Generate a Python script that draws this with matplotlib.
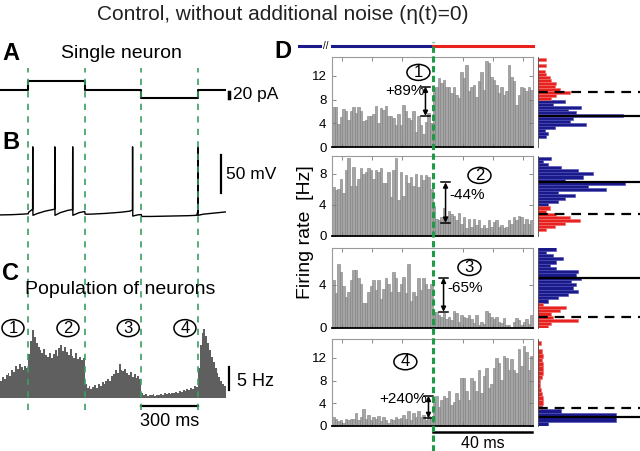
import numpy as np
import matplotlib
matplotlib.use('Agg')
import matplotlib.pyplot as plt
from matplotlib.lines import Line2D
from matplotlib.patches import Ellipse
import matplotlib.transforms as mtransforms

plt.rcParams['font.family'] = ['Liberation Sans', 'DejaVu Sans']
plt.rcParams['lines.scale_dashes'] = False

# ---------------- data ----------------
# A: injected current (pA), steps-post
step_t = [0, 150, 450, 750, 1050, 1200]
step_i = [0, 36, 0, -32, 0, 0]
event_t = [150, 450, 750, 1050]

# B: membrane potential knots (ms, mV)
v_t = [0, 60, 120, 150, 152, 165, 173, 174, 175,
       200, 240, 280, 290, 291, 292, 320, 360, 385,
       386, 387, 420, 450, 452, 480, 560, 640, 690,
       703, 704, 705, 730, 750, 752, 800, 900, 1000,
       1045, 1050, 1051, 1052, 1080, 1120, 1200]
v_mv = [-67.5, -67.2, -66.5, -66, -64, -61.5, -60, 22, -68,
        -65.5, -62.5, -60.5, -60, 22, -68, -64.5, -61.5, -60.5,
        22, -68, -64.5, -63, -66.5, -66.5, -65.5, -64, -62.5,
        -61, 22, -69, -67.5, -67, -69.5, -69.5, -69, -68.5,
        -68, -63, 22, -68, -66.5, -65.5, -63.5]

# C: population rate, 10 ms bins (Hz)
pop_bin = 10
pop_rate = [3.8, 4.5, 4.2, 5.0, 5.5, 4.8, 6.2, 5.6, 7.0, 6.4, 7.4, 6.8, 6.2, 7.0, 6.6,
            9.5, 12.5, 14.8, 13.2, 12.0, 11.2, 10.5, 9.8, 10.6, 9.4, 9.0, 9.8, 8.8, 9.6, 10.4,
            9.2, 10.8, 11.5, 10.2, 11.0, 10.0, 9.4, 10.6, 9.2, 8.6, 9.8, 8.4, 9.0, 8.2, 8.8,
            3.0, 2.2, 2.6, 2.0, 2.4, 2.8, 2.2, 3.0, 2.6, 3.4, 3.0, 3.8, 4.2, 3.6, 4.8,
            5.2, 6.0, 5.4, 7.4, 6.2, 5.8, 6.4, 5.4, 5.0, 5.6, 4.6, 5.2, 4.4, 4.8, 4.2,
            1.0, 0.6, 0.8, 0.5, 0.7, 0.6, 0.9, 0.5, 0.7, 0.6, 0.8, 0.7, 1.0, 0.8, 1.1,
            0.9, 1.2, 1.0, 1.4, 1.1, 1.5, 1.3, 1.8, 1.5, 2.0, 1.7, 2.2, 2.0, 2.6, 2.3,
            6.5, 11.5, 14.2, 15.0, 13.5, 12.0, 10.4, 9.0, 7.8, 6.5, 5.4, 4.6, 3.8, 3.0, 2.6]
pop_labels = ['1', '2', '3', '4']
pop_label_t = [69, 361, 681, 982]

# D: PSTH around event (1 ms bins, Hz)
p1_pre = [6.7, 6.7, 3.9, 5.0, 6.4, 6.0, 4.6, 6.0, 6.7, 5.7, 6.7, 6.0, 4.4, 4.6, 5.2, 5.2, 5.5, 7.0, 4.1, 6.6,
          6.3, 7.0, 5.2, 5.2, 4.9, 3.8, 5.5, 3.8, 7.1, 6.0, 4.9, 4.6, 6.0, 2.5, 5.2, 3.8, 2.2, 4.3, 5.7, 4.0]
p1_post = [9.9, 10.2, 11.6, 10.8, 11.4, 10.2, 10.2, 9.1, 10.2, 8.8, 8.2, 12.6, 11.6, 13.9, 9.4, 10.2, 10.5, 8.5, 11.2, 12.6,
           9.7, 14.5, 14.2, 11.8, 11.4, 10.5, 9.1, 10.2, 8.8, 9.4, 13.9, 11.8, 11.2, 7.1, 8.8, 10.2, 9.9, 9.4, 10.2, 9.6]
p2_pre = [6.3, 5.9, 6.1, 7.4, 5.5, 8.5, 10.0, 6.5, 8.9, 6.5, 7.4, 8.7, 8.0, 8.2, 8.7, 8.5, 7.4, 8.5, 8.2, 8.7,
          6.8, 6.8, 8.2, 5.0, 8.5, 10.0, 4.6, 8.2, 5.2, 7.8, 6.8, 7.6, 6.5, 8.0, 6.3, 7.8, 7.2, 7.8, 7.6, 6.1]
p2_post = [3.8, 2.2, 2.0, 2.4, 3.6, 2.6, 3.2, 2.8, 2.6, 2.0, 3.0, 1.6, 2.4, 1.0, 2.2, 1.2, 2.2, 1.4, 2.0, 1.0,
           1.4, 1.0, 2.1, 1.2, 1.8, 2.0, 1.2, 1.4, 1.0, 1.2, 2.0, 1.6, 2.4, 2.0, 2.6, 2.4, 1.6, 2.2, 1.5, 2.0]
p3_pre = [4.4, 3.2, 5.9, 5.2, 3.9, 2.9, 3.3, 4.4, 5.4, 5.4, 4.6, 4.1, 2.3, 2.3, 3.3, 3.9, 4.4, 3.5, 4.4, 2.7,
          3.6, 4.6, 4.1, 3.3, 5.2, 4.6, 3.3, 4.1, 4.7, 3.2, 5.9, 2.5, 3.3, 3.0, 4.6, 3.5, 4.6, 4.1, 3.6, 4.1]
p3_post = [1.5, 1.5, 1.2, 1.0, 1.4, 0.8, 1.0, 0.7, 1.6, 1.4, 0.6, 1.2, 1.0, 0.9, 1.2, 0.8, 0.5, 1.2, 0.3, 0.6,
           0.4, 1.6, 1.4, 1.0, 0.8, 1.0, 0.6, 0.5, 0.9, 0.3, 0.3, 0.0, 0.6, 0.9, 0.7, 0.3, 0.6, 0.8, 0.4, 1.2]
p4_pre = [1.6, 1.2, 0.8, 1.0, 0.6, 1.2, 1.0, 1.3, 1.2, 2.2, 1.0, 1.5, 3.0, 1.2, 2.0, 1.0, 1.5, 1.2, 1.8, 0.8,
          1.5, 1.0, 0.6, 1.2, 1.0, 1.6, 1.2, 1.4, 2.0, 1.2, 2.6, 1.0, 2.2, 1.5, 2.6, 1.6, 2.0, 1.0, 1.8, 1.2]
p4_post = [4.3, 5.2, 3.4, 4.6, 5.2, 4.9, 6.1, 3.7, 4.3, 5.8, 4.6, 8.5, 8.5, 6.1, 4.6, 8.5, 7.9, 6.1, 9.9, 5.8,
           8.8, 10.2, 6.7, 7.3, 10.2, 12.0, 11.1, 8.1, 12.3, 12.0, 9.9, 11.7, 9.9, 9.4, 13.5, 10.5, 14.1, 13.0, 9.9, 12.3]

# D: rate distributions (Hz bin centre, count)
h1_bw = 0.5
h1_blue_rate = [7.75, 7.25, 6.75, 6.25, 5.75, 5.25, 4.75, 4.25, 3.75, 3.25, 2.75, 2.25, 1.75]
h1_blue_n = [27, 15, 43, 30, 38, 85, 35, 32, 48, 17, 7, 10, 8]
h1_red_rate = [14.75, 13.75, 12.75, 12.25, 11.75, 11.25, 10.75, 10.25, 9.75, 9.25, 8.75, 8.25]
h1_red_n = [8, 8, 7, 8, 12, 13, 18, 17, 22, 32, 18, 13]
h2_bw = 0.4
h2_blue_rate = [10.0, 9.6, 9.2, 8.8, 8.4, 8.0, 7.6, 7.2, 6.8, 6.4, 6.0, 5.6, 5.2, 4.8, 4.4, 4.0]
h2_blue_n = [13, 5, 10, 23, 40, 55, 45, 27, 87, 50, 68, 20, 37, 27, 20, 10]
h2_red_rate = [3.6, 3.2, 2.8, 2.4, 2.0, 1.6, 1.2, 0.8]
h2_red_n = [12, 8, 18, 32, 42, 27, 17, 8]
h3_bw = 0.3
h3_blue_rate = [7.3, 7.0, 6.7, 6.4, 6.1, 5.8, 5.5, 5.2, 4.9, 4.6, 4.3, 4.0, 3.7, 3.4, 3.1, 2.8, 2.5]
h3_blue_n = [18, 8, 15, 25, 18, 12, 18, 40, 38, 43, 33, 38, 35, 40, 30, 20, 10]
h3_red_rate = [2.2, 1.9, 1.6, 1.3, 1.0, 0.7, 0.4, 0.1]
h3_red_n = [5, 28, 22, 13, 15, 40, 13, 10]
h4_bw = 0.75
h4_blue_rate = [3.375, 2.625, 1.875, 1.125, 0.375]
h4_blue_n = [4, 23, 78, 78, 10]
h4_red_rate = [3.375, 4.125, 4.875, 5.625, 6.375, 7.125, 7.875, 8.625, 9.375, 10.125,
               10.875, 11.625, 12.375, 13.125, 13.875, 14.625]
h4_red_n = [3, 5, 5, 4, 3, 2, 2, 4, 5, 5, 5, 4, 5, 4, 0, 3]

# mean rate before (solid) / after (dashed)
pre_level = [5.3, 7.0, 4.65, 1.6]
post_level = [9.3, 2.8, 1.0, 3.2]
change_label = ['+89%', '-44%', '-65%', '+240%']
change_x = [-2.8, 5.2, 4.4, -1.6]
change_lo = [5.25, 1.7, 1.5, 1.4]
change_hi = [10.2, 6.9, 4.65, 5.3]
label_pos = [(-5.6, 12.6), (18.7, 7.8), (14.7, 5.6), (-10.8, 11.3)]
row_ymax = [15.2, 10.3, 7.4, 15.3]
row_ticks = [[0, 4, 8, 12], [0, 4, 8], [0, 4], [0, 4, 8, 12]]

# ---------------- figure ----------------
W, H = 640, 451
fig = plt.figure(figsize=(6.4, 4.51), dpi=100)


def px_axes(x0, y0, x1, y1):
    return fig.add_axes([x0 / W, 1 - y1 / H, (x1 - x0) / W, (y1 - y0) / H])


def circled(ax, x, y, s, w_px=22, h_px=16):
    # oval outline of fixed pixel size around a number
    tr = fig.dpi_scale_trans + mtransforms.ScaledTranslation(x, y, ax.transData)
    ax.add_patch(Ellipse((0, 0), w_px / fig.dpi, h_px / fig.dpi, transform=tr,
                         fc='white', ec='k', lw=1.1, clip_on=False, zorder=5))
    ax.text(x, y, s, ha='center', va='center', fontsize=12, zorder=6)


green = '#3a9f62'
blue = '#1b1a8a'
red = '#e8231f'

fig.text(283 / W, 1 - 15 / H, 'Control, without additional noise (\u03b7(t)=0)',
         ha='center', va='center', fontsize=15, color='#222222')

# A
axA = px_axes(0, 75, 226, 102)
axA.plot(step_t, step_i, drawstyle='steps-post', color='k', lw=1.5)
axA.set_xlim(0, 1200)
axA.set_ylim(-48, 60)
axA.axis('off')
axA.plot([1216, 1216], [-8, -32], color='k', lw=2.5, clip_on=False)
axA.text(1237, -16, '20 pA', fontsize=12.5, va='center', clip_on=False)

# B
axB = px_axes(0, 140, 226, 222)
axB.plot(v_t, v_mv, color='k', lw=1.0)
axB.set_xlim(0, 1200)
axB.set_ylim(-76.8, 31)
axB.axis('off')
axB.plot([1174, 1174], [-38.7, 11.3], color='k', lw=1.6, clip_on=False)
axB.text(1200, -15, '50 mV', fontsize=12.5, va='center', clip_on=False)

# C
axC = px_axes(0, 318, 226, 400)
edges = np.arange(len(pop_rate) + 1) * pop_bin
axC.fill_between(edges, np.r_[pop_rate, pop_rate[-1]], step='post', color='#5f5f5f', lw=0)
axC.set_xlim(0, 1200)
axC.set_ylim(-0.43, 17.4)
axC.axis('off')
for lab, t in zip(pop_labels, pop_label_t):
    circled(axC, t, 15.2, lab, 22, 17)
axC.plot([1216, 1216], [1.7, 6.7], color='k', lw=1.6, clip_on=False)
axC.text(1258, 3.6, '5 Hz', fontsize=13, va='center', clip_on=False)
axC.plot([event_t[2], event_t[3]], [-1.74, -1.74], color='k', lw=1.6, clip_on=False)
axC.text((event_t[2] + event_t[3]) / 2, -5.0, '300 ms', fontsize=13, ha='center', va='center', clip_on=False)

trAC = mtransforms.blended_transform_factory(axA.transData, fig.transFigure)
for t in event_t:
    fig.add_artist(Line2D([t, t], [1 - 410 / H, 1 - 68 / H], transform=trAC,
                          color=green, lw=1.2, dashes=(4.5, 4.5)))

fig.text(2 / W, 1 - 53 / H, 'A', fontsize=17, weight='bold', va='center')
fig.text(121 / W, 1 - 53 / H, 'Single neuron', fontsize=14, ha='center', va='center')
fig.text(2 / W, 1 - 142 / H, 'B', fontsize=17, weight='bold', va='center')
fig.text(2 / W, 1 - 273 / H, 'C', fontsize=17, weight='bold', va='center')
fig.text(120 / W, 1 - 289 / H, 'Population of neurons', fontsize=14, ha='center', va='center')
fig.text(274 / W, 1 - 52 / H, 'D', fontsize=17, weight='bold', va='center')

# D
rows = [(p1_pre, p1_post, h1_bw, h1_blue_rate, h1_blue_n, h1_red_rate, h1_red_n),
        (p2_pre, p2_post, h2_bw, h2_blue_rate, h2_blue_n, h2_red_rate, h2_red_n),
        (p3_pre, p3_post, h3_bw, h3_blue_rate, h3_blue_n, h3_red_rate, h3_red_n),
        (p4_pre, p4_post, h4_bw, h4_blue_rate, h4_blue_n, h4_red_rate, h4_red_n)]
row_top = [57, 156, 248, 339]
row_bot = [147, 236, 328, 426]
pre_x = np.arange(-40, 0) + 0.5
post_x = np.arange(0, 40) + 0.5
main_axes = []
for i, (pre, post, bw, b_r, b_n, r_r, r_n) in enumerate(rows):
    ax = px_axes(332, row_top[i], 533, row_bot[i])
    main_axes.append(ax)
    ax.bar(pre_x, pre, width=1.0, color='#a5a5a5', edgecolor='#7d7d7d', lw=0.4)
    ax.bar(post_x, post, width=1.0, color='#a5a5a5', edgecolor='#7d7d7d', lw=0.4)
    ax.set_xlim(-40, 40)
    ax.set_ylim(0, row_ymax[i])
    ax.set_yticks(row_ticks[i])
    ax.set_xticks([-36, -24, -12, 12, 24, 36])
    ax.tick_params(direction='in', length=3, width=0.6, color='#777777',
                   labelsize=9.5, top=True, right=True, labelbottom=False, pad=4)
    for s in ['top', 'right', 'left']:
        ax.spines[s].set_color('#9a9a9a')
        ax.spines[s].set_linewidth(0.8)
    ax.spines['bottom'].set_linewidth(1.3)

    x = change_x[i]
    ax.annotate('', xy=(x, change_hi[i]), xytext=(x, change_lo[i]),
                arrowprops=dict(arrowstyle='<|-|>', color='k', lw=1.1,
                                mutation_scale=7, shrinkA=0, shrinkB=0))
    for yy in (change_lo[i], change_hi[i]):
        ax.plot([x - 1.7, x + 1.7], [yy, yy], color='k', lw=1.1)
    if x < 0:
        ax.text(x - 0.5, change_hi[i] - 0.15 * (change_hi[i] - change_lo[i]), change_label[i],
                ha='right', va='center', fontsize=11)
    else:
        ax.text(x + 1.4, change_hi[i] - 0.3 * (change_hi[i] - change_lo[i]), change_label[i],
                ha='left', va='center', fontsize=11)
    lx, ly = label_pos[i]
    circled(ax, lx, ly, str(i + 1), 23, 16)

    axh = px_axes(538, row_top[i], 640, row_bot[i])
    axh.barh(b_r, b_n, height=bw, color=blue, edgecolor='#4a4ab8', lw=0.4)
    axh.barh(r_r, r_n, height=bw, color=red, edgecolor='#f07070', lw=0.4)
    axh.axhline(pre_level[i], color='k', lw=1.6)
    axh.axhline(post_level[i], color='k', lw=1.6, dashes=(7, 5))
    axh.set_xlim(0, 102)
    axh.set_ylim(0, row_ymax[i])
    axh.set_xticks([])
    axh.set_yticks([])
    for s in ['top', 'right', 'bottom']:
        axh.spines[s].set_visible(False)
    axh.spines['left'].set_color('#444444')
    axh.spines['left'].set_linewidth(0.6)

ax1 = main_axes[0]
ax1.plot([-53, -44.6], [17.1, 17.1], color=blue, lw=2.2, clip_on=False)
ax1.plot([-40, 0], [17.1, 17.1], color=blue, lw=2.2, clip_on=False)
ax1.plot([0, 40], [17.1, 17.1], color=red, lw=2.2, clip_on=False)
ax1.text(-42.3, 17.1, '//', fontsize=7, ha='center', va='center', clip_on=False)

ax4 = main_axes[3]
ax4.plot([0, 39.5], [-1.06, -1.06], color='k', lw=1.8, clip_on=False)
ax4.text(20, -3.0, '40 ms', fontsize=11.5, ha='center', va='center', clip_on=False)

trD = mtransforms.blended_transform_factory(ax1.transData, fig.transFigure)
fig.add_artist(Line2D([0, 0], [0, 1 - 42 / H], transform=trD,
                      color='#1f9a48', lw=2.2, dashes=(4.5, 2.5)))

fig.text(306 / W, 1 - 232 / H, 'Firing rate  [Hz]', rotation=90, fontsize=14,
         ha='center', va='center')

fig.savefig('out.png', dpi=100)
